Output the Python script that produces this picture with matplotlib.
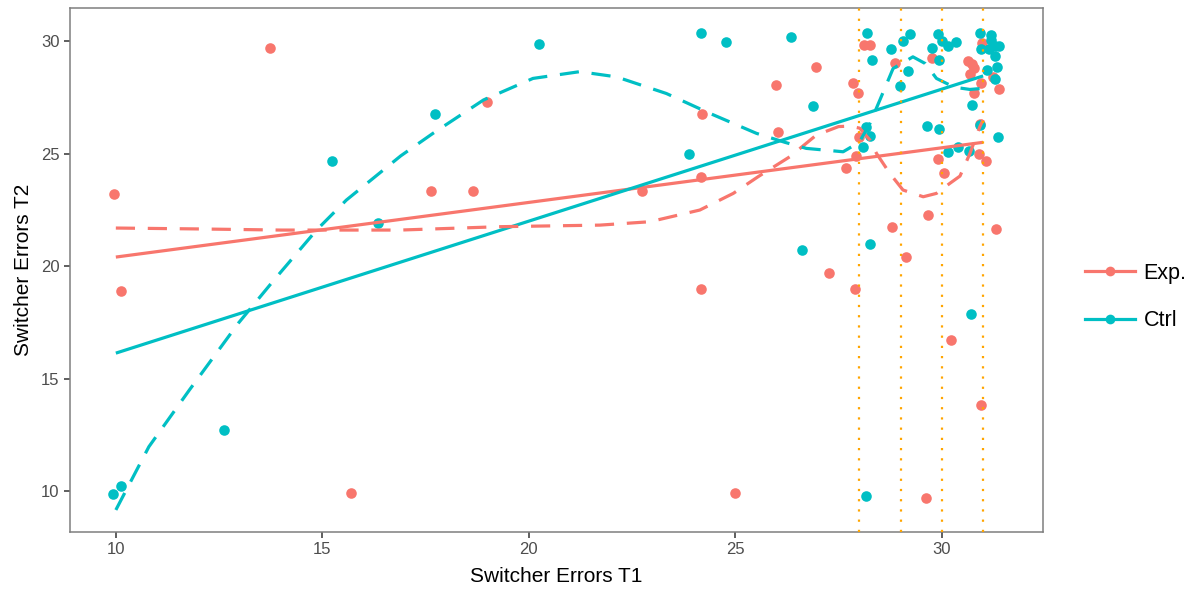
import matplotlib
matplotlib.use("Agg")
import matplotlib.pyplot as plt
from matplotlib.lines import Line2D

plt.rcParams['font.family'] = ['Liberation Sans', 'DejaVu Sans']

# ---------------- data ----------------
exp_x = [9.96, 10.12, 13.73, 15.69, 17.62, 18.65, 18.99, 22.73, 24.16, 24.19,
         24.16, 25.0, 25.98, 26.04, 26.95, 27.26, 27.89, 27.67, 27.85, 27.96,
         27.99, 27.93, 28.12, 28.27, 28.79, 28.86, 29.13, 29.66, 29.61, 29.76,
         29.91, 30.05, 30.22, 30.63, 30.74, 30.77, 30.68, 30.77, 30.98, 30.94,
         31.23, 31.38, 30.9, 31.08, 30.94, 31.31, 30.92]
exp_y = [23.2, 18.89, 29.7, 9.93, 23.32, 23.32, 27.27, 23.33, 23.97, 26.74,
         18.99, 9.93, 28.04, 25.97, 28.83, 19.69, 18.98, 24.38, 28.12, 27.7,
         25.75, 24.9, 29.81, 29.81, 21.73, 29.01, 20.4, 22.27, 9.69, 29.23,
         24.74, 24.12, 16.71, 29.12, 28.96, 28.81, 28.52, 27.7, 29.9, 28.15,
         28.4, 27.87, 24.96, 24.69, 13.82, 21.64, 26.3]

ctrl_x = [9.94, 10.12, 12.63, 15.23, 16.35, 17.72, 20.25, 23.87, 24.16, 24.77,
          26.35, 26.89, 26.61, 28.18, 28.3, 28.17, 28.27, 28.08, 28.26, 28.16,
          28.78, 29.05, 29.24, 29.18, 28.99, 29.77, 29.9, 30.01, 30.14, 30.35,
          29.92, 29.63, 29.93, 30.16, 30.4, 30.65, 30.7, 30.92, 31.18, 31.18,
          31.28, 31.39, 31.14, 30.94, 31.29, 31.1, 31.33, 31.28, 30.72, 30.92,
          31.37]
ctrl_y = [9.87, 10.22, 12.71, 24.68, 21.9, 26.74, 29.88, 24.99, 30.36, 29.94,
          30.18, 27.12, 20.71, 30.37, 29.16, 26.18, 25.78, 25.3, 20.98, 9.78,
          29.66, 30.0, 30.32, 28.68, 28.0, 29.69, 30.32, 30.0, 29.78, 29.97,
          29.18, 26.24, 26.1, 25.08, 25.3, 25.11, 17.87, 30.38, 30.27, 30.04,
          29.8, 29.78, 29.63, 29.63, 29.33, 28.71, 28.83, 28.3, 27.16, 26.27,
          25.73]

# linear fits (end points)
fit_x = [10, 31]
exp_fit_y = [20.4, 25.5]
ctrl_fit_y = [16.13, 28.45]

# loess curves
exp_loess_x = [10.0, 12.0, 14.0, 16.88, 19.3, 21.72, 22.93, 24.14, 24.95, 25.55,
               26.32, 26.96, 27.5, 27.77, 28.01, 28.26, 28.42, 28.74, 29.06, 29.55,
               29.87, 30.19, 30.44, 30.68, 30.92, 31.0]
exp_loess_y = [21.69, 21.65, 21.6, 21.6, 21.75, 21.82, 21.97, 22.49, 23.23, 23.97,
               24.86, 25.82, 26.2, 26.22, 26.13, 25.6, 25.0, 24.12, 23.38, 23.08,
               23.23, 23.67, 24.0, 25.0, 26.19, 26.5]

ctrl_loess_x = [10.0, 10.8, 11.78, 12.97, 13.83, 14.86, 15.58, 16.9, 17.68, 18.9,
                20.1, 21.23, 22.12, 23.33, 24.38, 25.51, 26.2, 26.72, 27.61, 28.0,
                28.25, 28.5, 28.82, 29.3, 29.6, 29.87, 30.3, 30.68, 31.0]
ctrl_loess_y = [9.16, 11.97, 14.49, 17.47, 19.38, 21.6, 22.93, 24.9, 25.9, 27.38,
                28.34, 28.64, 28.41, 27.67, 26.79, 25.9, 25.5, 25.23, 25.08, 25.5,
                26.3, 27.38, 28.78, 29.3, 29.0, 28.34, 27.95, 27.85, 27.9]

vlines = [28, 29, 30, 31]
groups = ["Exp.", "Ctrl"]
colors = ["#F8766D", "#00BFC4"]

# ---------------- figure ----------------
fig = plt.figure(figsize=(11.95, 5.89), dpi=100)
ax = fig.add_axes([70 / 1195, 57 / 589, (1043 - 70) / 1195, (532 - 8) / 589])

ax.scatter(exp_x, exp_y, s=58, color=colors[0], linewidths=0, zorder=2)
ax.scatter(ctrl_x, ctrl_y, s=58, color=colors[1], linewidths=0, zorder=2)

ax.plot(fit_x, exp_fit_y, color=colors[0], lw=2.3, zorder=3, solid_capstyle='butt')
ax.plot(fit_x, ctrl_fit_y, color=colors[1], lw=2.3, zorder=3, solid_capstyle='butt')

ax.plot(exp_loess_x, exp_loess_y, color=colors[0], lw=2.3, ls=(0, (6, 4)), zorder=4)
ax.plot(ctrl_loess_x, ctrl_loess_y, color=colors[1], lw=2.3, ls=(0, (6, 4)), zorder=4)

for v in vlines:
    ax.axvline(v, color="#FFA500", lw=1.6, ls=(0, (1, 3.6)), zorder=5,
               dash_capstyle='butt')

ax.set_xlim(8.89, 32.45)
ax.set_ylim(8.18, 31.47)
ax.set_xticks([10, 15, 20, 25, 30])
ax.set_yticks([10, 15, 20, 25, 30])

for sp in ax.spines.values():
    sp.set_color("#7F7F7F")
    sp.set_linewidth(1.1)
ax.tick_params(labelcolor="#4D4D4D", labelsize=12, length=4, width=1.1,
               color="#333333")

ax.set_xlabel("Switcher Errors T1", fontsize=15, color="black", labelpad=7)
ax.set_ylabel("Switcher Errors T2", fontsize=15, color="black", labelpad=6)

handles = [Line2D([0], [0], color=c, lw=2.3, marker='o', markersize=7,
                  markeredgewidth=0) for c in colors]
leg = fig.legend(handles, groups, loc='center left',
                 bbox_to_anchor=(1066 / 1195, 292 / 589), frameon=False,
                 fontsize=15.5, handlelength=2.3, handletextpad=0.4,
                 labelspacing=1.25)

fig.savefig("out.png", dpi=100)
